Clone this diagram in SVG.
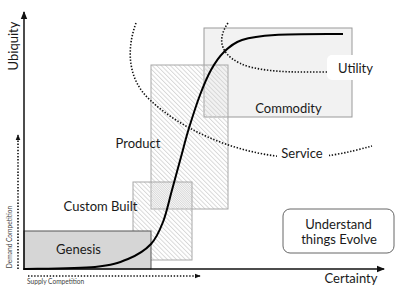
<svg xmlns="http://www.w3.org/2000/svg" width="400" height="292" viewBox="0 0 400 292">
<style>
text{font-family:Lato,"Open Sans","DejaVu Sans",sans-serif;fill:#1a1a1a}
.lbl{font-size:13px;text-anchor:middle}
.small{font-size:6.6px;fill:#444}
.dots{fill:none;stroke:#111;stroke-width:1.6;stroke-dasharray:1.4 1.7}
.axis{fill:none;stroke:#111;stroke-width:1.5}
.hatchbox{stroke:#a8a8a8;stroke-width:1}
</style>
<defs>
<pattern id="hatchA" patternUnits="userSpaceOnUse" width="3.2" height="3.2" patternTransform="rotate(-45)">
<line x1="0.5" y1="0" x2="0.5" y2="3.2" stroke="#d0d0d0" stroke-width="0.8"/>
</pattern>
<pattern id="hatchB" patternUnits="userSpaceOnUse" x="1.6" width="3.2" height="3.2" patternTransform="rotate(-45)">
<line x1="0.5" y1="0" x2="0.5" y2="3.2" stroke="#d0d0d0" stroke-width="0.8"/>
</pattern>
<marker id="tri" viewBox="0 0 8 8" refX="7" refY="4" markerWidth="8" markerHeight="8" markerUnits="userSpaceOnUse" orient="auto">
<path d="M0,0.8 L8,4 L0,7.2 Z" fill="#111"/>
</marker>
<marker id="trismall" viewBox="0 0 8 8" refX="7" refY="4" markerWidth="6" markerHeight="6" markerUnits="userSpaceOnUse" orient="auto">
<path d="M0,0.8 L8,4 L0,7.2 Z" fill="#111"/>
</marker>
</defs>

<g id="commodity">
<rect x="204" y="28" width="148" height="89" fill="#f2f2f2" stroke="#9a9a9a" stroke-width="1"/>
<text class="lbl" x="288.5" y="113">Commodity</text>
</g>

<g id="product">
<rect class="hatchbox" x="151" y="65" width="77" height="144" fill="url(#hatchA)"/>
<text class="lbl" x="138" y="148">Product</text>
</g>

<g id="custom-built">
<rect class="hatchbox" x="133" y="182" width="59" height="78" fill="url(#hatchB)"/>
<text class="lbl" x="100.5" y="211">Custom Built</text>
</g>

<g id="genesis">
<rect x="24" y="231" width="127" height="38" fill="#d6d6d6" stroke="#555" stroke-width="1"/>
<text class="lbl" x="78.5" y="254">Genesis</text>
</g>

<g id="connectors">
<line class="axis" x1="24" y1="270" x2="24" y2="12" marker-end="url(#tri)"/>
<line class="axis" x1="23" y1="269" x2="384" y2="269" marker-end="url(#tri)"/>
<line class="dots" x1="18" y1="269" x2="18" y2="135" stroke-width="1.4" marker-end="url(#trismall)"/>
<line class="dots" x1="28" y1="276" x2="200" y2="276" stroke-width="1.4" marker-end="url(#trismall)"/>
<path d="M24,269 C35.8,268.7 77.7,268.7 95,267 C112.3,265.3 118.7,262.8 128,259 C137.3,255.2 145.2,250.2 151,244 C156.8,237.8 159.5,231 163,222 C166.5,213 169,200.8 172,190 C175,179.2 178.2,167.3 181,157 C183.8,146.7 185.8,138.3 189,128 C192.2,117.7 196.3,104.7 200,95 C203.7,85.3 207,77.2 211,70 C215,62.8 218.8,57 224,52 C229.2,47 233.5,42.8 242,40 C250.5,37.2 258.2,36 275,35 C291.8,34 331.7,34.2 343,34" fill="none" stroke="#000" stroke-width="2"/>
<path class="dots" d="M136,23 C126,50 128,80 150,100 C180,128 230,152 285,157 C320,160 350,152 372,146"/>
<path class="dots" d="M228,23 C216,40 220,58 250,67 C275,73 300,72 327,72"/>
</g>

<g id="service">
<rect x="277" y="145" width="52" height="18" fill="#fff"/>
<text class="lbl" x="302" y="158">Service</text>
</g>

<g id="utility">
<rect x="327" y="55" width="54" height="25" rx="5" fill="#fff"/>
<text class="lbl" x="355.5" y="73">Utility</text>
</g>

<g id="understand">
<rect x="283" y="209" width="111" height="44" rx="7" fill="#fff" stroke="#666" stroke-width="1"/>
<text class="lbl" x="338.5" y="229">Understand</text>
<text class="lbl" x="339" y="244">things Evolve</text>
</g>

<g id="axis-labels">
<text class="lbl" transform="translate(18,46) rotate(-90)">Ubiquity</text>
<text class="lbl" x="351" y="283">Certainty</text>
<text class="small" transform="translate(12,237) rotate(-90)" text-anchor="middle">Demand Competition</text>
<text class="small" x="27" y="284">Supply Competition</text>
</g>
</svg>
